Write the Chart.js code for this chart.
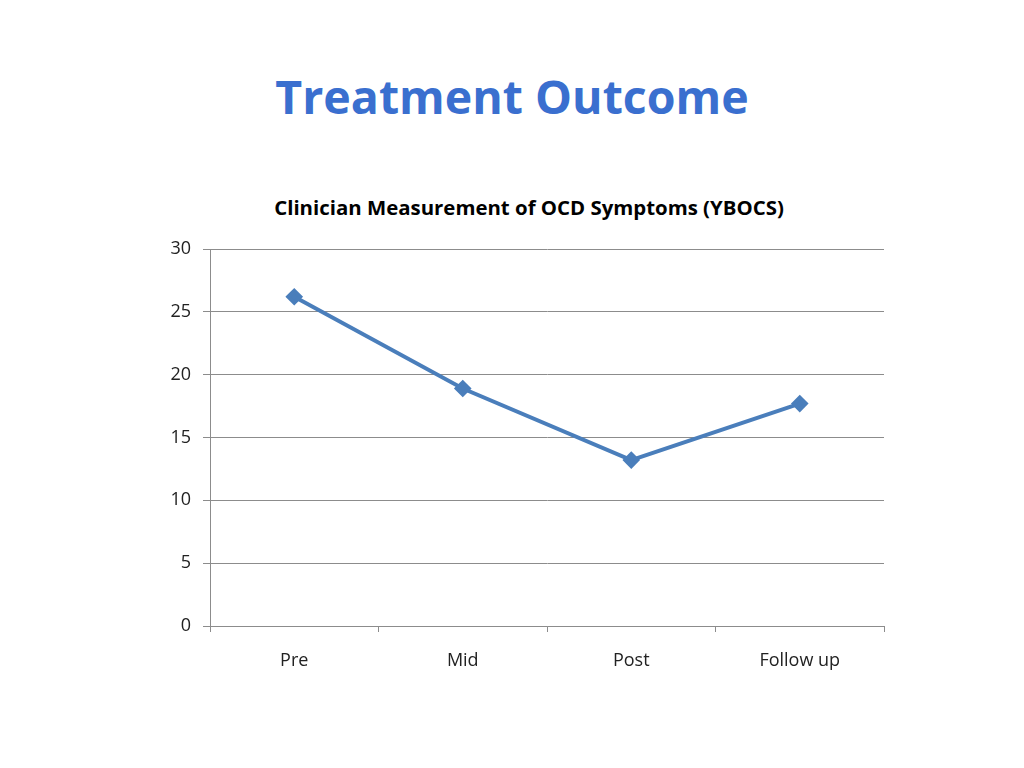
<!DOCTYPE html>
<html>
<head>
<meta charset="utf-8">
<script src="https://cdn.jsdelivr.net/npm/chart.js@4"></script>
<style>
  body { margin: 0; background: #fff; width: 1024px; height: 768px; overflow: hidden; }
  h1 {
    position: absolute; left: 0; top: 66px; width: 1024px; margin: 0;
    text-align: center; font-family: "Open Sans", sans-serif; font-weight: bold;
    font-size: 46.5px; line-height: 60px; color: #3a6fcf;
  }
  #chartTitle {
    position: absolute; left: 229px; top: 193px; width: 600px; margin: 0;
    text-align: center; font-family: "Open Sans", sans-serif; font-weight: bold;
    font-size: 20.4px; line-height: 28px; color: #000;
  }
  #wrap { position: absolute; left: 150px; top: 172px; width: 760px; height: 533px; }
</style>
</head>
<body>
<h1>Treatment Outcome</h1>
<div id="chartTitle">Clinician Measurement of OCD Symptoms (YBOCS)</div>
<div id="wrap"><canvas id="ybocsChart"></canvas></div>
<script>
// Daten
const categories = ["Pre", "Mid", "Post", "Follow up"];
const ybocsScores = [26.2, 18.9, 13.2, 17.7];
const yTicks = [0, 5, 10, 15, 20, 25, 30];

const fontFam = "'Open Sans', sans-serif";
const gridColor = "#8c8c8c";

const ctx = document.getElementById("ybocsChart").getContext("2d");

new Chart(ctx, {
    type: 'line',
    data: {
        labels: categories,
        datasets: [{
            data: ybocsScores,
            borderColor: "#4a7ebb",
            backgroundColor: "#4a7ebb",
            borderWidth: 4,
            pointStyle: 'rectRot',
            pointRadius: 6,
            pointHoverRadius: 6,
            tension: 0
        }]
    },
    options: {
        responsive: true,
        maintainAspectRatio: false,
        animation: false,
        // Titel steht als HTML darueber, daher oben Platz lassen
        layout: { padding: { top: 77, right: 26, bottom: 0, left: 0 } },
        plugins: {
            legend: { display: false },
            tooltip: { enabled: false },
            title: { display: false }
        },
        scales: {
            x: {
                offset: true,
                grid: {
                    offset: true,
                    drawOnChartArea: false,
                    drawTicks: true,
                    tickLength: 6,
                    color: gridColor
                },
                border: { color: gridColor },
                ticks: { color: "#222", font: { family: fontFam, size: 18 }, padding: 18 },
                afterFit: (s) => { s.height = 79; }
            },
            y: {
                min: 0,
                max: 30,
                afterBuildTicks: (s) => { s.ticks = yTicks.map(v => ({ value: v })); },
                grid: { color: gridColor, tickLength: 7 },
                border: { color: gridColor },
                ticks: { color: "#222", font: { family: fontFam, size: 18 }, padding: 12 },
                afterFit: (s) => { s.width = 60; }
            }
        }
    }
});
</script>
</body>
</html>
